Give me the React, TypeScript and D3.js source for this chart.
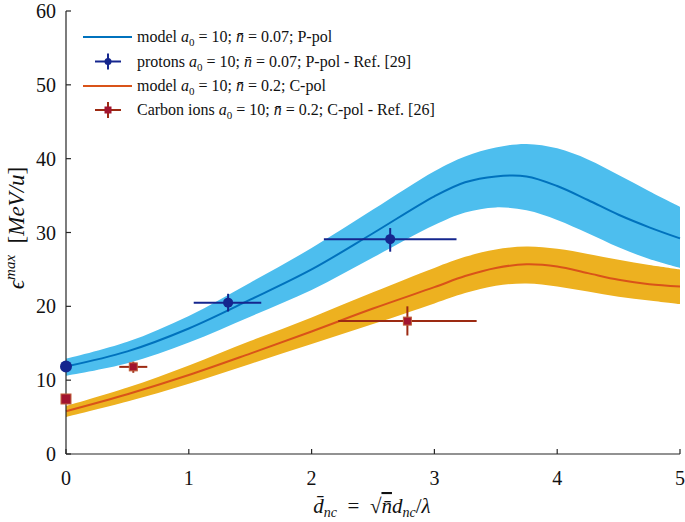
import React from "react";
import * as d3 from "d3";

const xGrid = [0, 0.5, 1, 1.5, 2, 2.5, 3, 3.25, 3.5, 3.75, 4, 4.25, 4.5, 4.75, 5];
const blueLine = [11.85, 13.9, 17.0, 20.9, 25.0, 29.9, 34.9, 36.8, 37.6, 37.6, 36.3, 34.4, 32.4, 30.7, 29.2];
const blueUpper = [12.9, 15.2, 18.7, 23.2, 27.9, 33.1, 38.3, 40.3, 41.5, 42.0, 41.4, 39.9, 37.8, 35.6, 33.5];
const blueLower = [10.6, 12.3, 15.1, 18.6, 22.2, 26.6, 31.0, 32.7, 33.4, 33.0, 31.7, 29.9, 28.0, 26.4, 25.2];
const orangeLine = [5.8, 8.1, 10.7, 13.6, 16.6, 19.7, 22.6, 24.1, 25.2, 25.7, 25.4, 24.5, 23.6, 23.0, 22.7];
const orangeUpper = [6.5, 9.0, 12.0, 15.3, 18.5, 21.9, 25.2, 26.7, 27.7, 28.1, 27.8, 27.1, 26.3, 25.6, 25.0];
const orangeLower = [5.0, 7.1, 9.5, 12.2, 14.9, 17.6, 20.4, 21.8, 22.8, 23.1, 22.7, 22.0, 21.3, 20.8, 20.3];

const protonX = [0, 1.32, 2.64];
const protonY = [11.85, 20.5, 29.1];
const protonXErr = [[0, 0], [1.04, 1.59], [2.1, 3.18]];
const protonYErr = [[11.85, 11.85], [19.3, 21.7], [27.4, 30.6]];
const protonR = [6, 5, 5];

const carbonX = [0, 0.548, 2.78];
const carbonY = [7.45, 11.8, 18.0];
const carbonXErr = [[0, 0], [0.434, 0.662], [2.217, 3.344]];
const carbonYErr = [[7.45, 7.45], [11.0, 12.5], [16.05, 20.0]];
const carbonS = [10, 8, 8];

const xTicks = [0, 1, 2, 3, 4, 5];
const yTicks = [0, 10, 20, 30, 40, 50, 60];

const C_BLUE_BAND = "#4DBEEE";
const C_BLUE_LINE = "#0072BD";
const C_ORANGE_BAND = "#EDB120";
const C_ORANGE_LINE = "#D95319";
const C_PROTON = "#15268e";
const C_CARBON_ERR = "#9c2a12";
const C_CARBON = "#a2142f";
const AXIS = "#262626";
const FONT = "'Liberation Serif', 'DejaVu Serif', serif";

export default function App() {
  const x = d3.scaleLinear().domain([0, 5]).range([66, 680]);
  const y = d3.scaleLinear().domain([0, 60]).range([454, 11]);

  const area = (up: number[], lo: number[]) =>
    d3
      .area<number>()
      .x((_, i) => x(xGrid[i]))
      .y0((_, i) => y(lo[i]))
      .y1((_, i) => y(up[i]))
      .curve(d3.curveCatmullRom.alpha(0.5))(xGrid);
  const line = (v: number[]) =>
    d3
      .line<number>()
      .x((_, i) => x(xGrid[i]))
      .y((_, i) => y(v[i]))
      .curve(d3.curveCatmullRom.alpha(0.5))(xGrid);

  const legendRows = [37, 61.5, 86, 110];
  const lx0 = 83, lx1 = 132, ltx = 137, lmx = 108;

  const A0 = () => (
    <>
      <tspan fontStyle="italic">a</tspan>
      <tspan fontSize="11" dy="4">0</tspan>
      <tspan dy="-4"> = 10; </tspan>
      <tspan fontStyle="italic">n̄</tspan>
    </>
  );

  return (
    <svg width={685} height={522} style={{ position: "absolute", left: 0, top: 0 }} fontFamily={FONT}>
      <rect width={685} height={522} fill="white" />
      <path d={area(orangeUpper, orangeLower) || ""} fill={C_ORANGE_BAND} />
      <path d={area(blueUpper, blueLower) || ""} fill={C_BLUE_BAND} />
      <path d={line(blueLine) || ""} fill="none" stroke={C_BLUE_LINE} strokeWidth={2} />
      <path d={line(orangeLine) || ""} fill="none" stroke={C_ORANGE_LINE} strokeWidth={2} />

      <line x1={x(0)} x2={x(5)} y1={y(0)} y2={y(0)} stroke={AXIS} strokeWidth={1.2} />
      <line x1={x(0)} x2={x(0)} y1={y(0)} y2={y(60)} stroke={AXIS} strokeWidth={1.2} />
      {xTicks.map((t) => (
        <g key={"xt" + t}>
          <line x1={x(t)} x2={x(t)} y1={y(0)} y2={y(0) - 5} stroke={AXIS} strokeWidth={1.2} />
          <text x={x(t)} y={485} fontSize={20} textAnchor="middle" fill="#111">{t}</text>
        </g>
      ))}
      {yTicks.map((t) => (
        <g key={"yt" + t}>
          <line x1={x(0)} x2={x(0) + 5} y1={y(t)} y2={y(t)} stroke={AXIS} strokeWidth={1.2} />
          <text x={56} y={y(t) + 7} fontSize={20} textAnchor="end" fill="#111">{t}</text>
        </g>
      ))}

      {carbonX.map((cx, i) => (
        <g key={"c" + i}>
          <line x1={x(carbonXErr[i][0])} x2={x(carbonXErr[i][1])} y1={y(carbonY[i])} y2={y(carbonY[i])} stroke={C_CARBON_ERR} strokeWidth={2} />
          <line x1={x(cx)} x2={x(cx)} y1={y(carbonYErr[i][0])} y2={y(carbonYErr[i][1])} stroke={C_CARBON_ERR} strokeWidth={2} />
          <rect x={x(cx) - carbonS[i] / 2} y={y(carbonY[i]) - carbonS[i] / 2} width={carbonS[i]} height={carbonS[i]} fill={C_CARBON} stroke="#c0603a" strokeWidth={1} />
        </g>
      ))}
      {protonX.map((px, i) => (
        <g key={"p" + i}>
          <line x1={x(protonXErr[i][0])} x2={x(protonXErr[i][1])} y1={y(protonY[i])} y2={y(protonY[i])} stroke={C_PROTON} strokeWidth={2} />
          <line x1={x(px)} x2={x(px)} y1={y(protonYErr[i][0])} y2={y(protonYErr[i][1])} stroke={C_PROTON} strokeWidth={2} />
          <circle cx={x(px)} cy={y(protonY[i])} r={protonR[i]} fill={C_PROTON} />
        </g>
      ))}

      <g fontSize={16} fill="#111">
        <line x1={lx0} x2={lx1} y1={legendRows[0]} y2={legendRows[0]} stroke={C_BLUE_LINE} strokeWidth={2} />
        <text x={ltx} y={legendRows[0] + 5}>
          model <A0 /> = 0.07; P-pol
        </text>
        <line x1={lmx - 13} x2={lmx + 13} y1={legendRows[1]} y2={legendRows[1]} stroke={C_PROTON} strokeWidth={2} />
        <line x1={lmx} x2={lmx} y1={legendRows[1] - 8} y2={legendRows[1] + 8} stroke={C_PROTON} strokeWidth={2} />
        <circle cx={lmx} cy={legendRows[1]} r={3.5} fill={C_PROTON} />
        <text x={ltx} y={legendRows[1] + 5}>
          protons <A0 /> = 0.07; P-pol - Ref. [29]
        </text>
        <line x1={lx0} x2={lx1} y1={legendRows[2]} y2={legendRows[2]} stroke={C_ORANGE_LINE} strokeWidth={2} />
        <text x={ltx} y={legendRows[2] + 5}>
          model <A0 /> = 0.2; C-pol
        </text>
        <line x1={lmx - 13} x2={lmx + 13} y1={legendRows[3]} y2={legendRows[3]} stroke={C_CARBON_ERR} strokeWidth={2} />
        <line x1={lmx} x2={lmx} y1={legendRows[3] - 8} y2={legendRows[3] + 8} stroke={C_CARBON_ERR} strokeWidth={2} />
        <rect x={lmx - 3.5} y={legendRows[3] - 3.5} width={7} height={7} fill={C_CARBON} />
        <text x={ltx} y={legendRows[3] + 5}>
          Carbon ions <A0 /> = 0.2; C-pol - Ref. [26]
        </text>
      </g>

      <text x={372} y={513} fontSize={21} textAnchor="middle" fill="#111">
        <tspan fontStyle="italic">d̄</tspan>
        <tspan fontStyle="italic" fontSize={14} dy={4}>nc</tspan>
        <tspan dy={-4} xmlSpace="preserve">  =  √</tspan>
        <tspan fontStyle="italic" style={{ textDecoration: "overline" }}>n̄</tspan>
        <tspan fontStyle="italic">d</tspan>
        <tspan fontStyle="italic" fontSize={14} dy={4}>nc</tspan>
        <tspan dy={-4}>/</tspan>
        <tspan fontStyle="italic">λ</tspan>
      </text>

      <text transform="translate(24,228) rotate(-90)" fontSize={23} textAnchor="middle" fill="#111">
        <tspan fontStyle="italic">ϵ</tspan>
        <tspan fontStyle="italic" fontSize={15} dy={-9}>max</tspan>
        <tspan dy={9} xmlSpace="preserve">  [</tspan>
        <tspan fontStyle="italic">MeV/u</tspan>
        <tspan>]</tspan>
      </text>
    </svg>
  );
}
